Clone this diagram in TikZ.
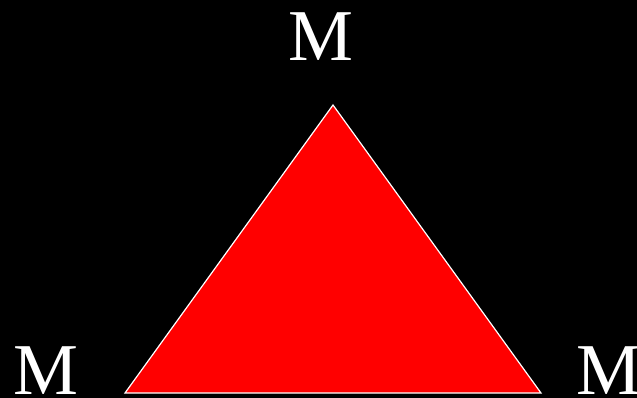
\documentclass[tikz,border=0pt]{standalone}
\usepackage{fontspec}
\setmainfont{Liberation Serif}
\usetikzlibrary{positioning}

\begin{document}
\begin{tikzpicture}[
  x=1pt,y=-1pt,
  vertex/.style={text=white,inner sep=0pt,anchor=base,
    font=\fontsize{73}{73}\selectfont},
  face/.style={draw=white,fill=red,line width=1.2pt,line join=miter}
]
  \fill[black] (0,0) rectangle (637,398);
  \useasboundingbox (0,0) rectangle (637,398);
  \clip (0,0) rectangle (637,398);

  \coordinate (apex) at (333,105);
  \coordinate (left) at (125,393);
  \coordinate (right) at (541,393);
  \draw[face] (apex) -- (left) -- (right) -- cycle;

  % labels on the three corners
  \node[vertex] (mtop) at (321,61) {M};
  \node[vertex] (mleft) at (45.5,394) {M};
  \node[vertex] (mright) at (608.5,394) {M};
\end{tikzpicture}
\end{document}
